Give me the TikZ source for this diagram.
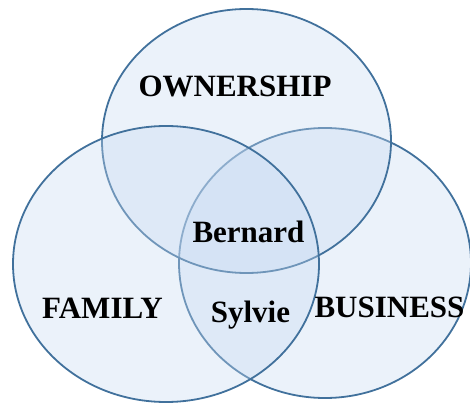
\documentclass[tikz,border=0pt]{standalone}
\usepackage{fontspec}
\setmainfont{Liberation Serif}
\usetikzlibrary{shapes.geometric}
\definecolor{ringline}{RGB}{65,113,156}
\definecolor{ringfill}{RGB}{197,217,241}
\tikzset{
  ring/.style={ellipse, draw=ringline, line width=1.8pt, fill=ringfill,
    fill opacity=0.35, inner sep=0pt},
  label/.style={anchor=base, inner sep=0pt, font=\bfseries\fontsize{31}{31}\selectfont, text=black}
}
\begin{document}
\begin{tikzpicture}[x=1pt,y=-1pt]
  \useasboundingbox (0,0) rectangle (470,403);
  % the three overlapping circles
  \node[ring, minimum width=292pt, minimum height=270pt] (business) at (325,263) {};
  \node[ring, minimum width=289pt, minimum height=264pt] (ownership) at (246.5,141) {};
  \node[ring, minimum width=306pt, minimum height=276pt] (family) at (166,264) {};
  % labels
  \node[label] (own) at (235,97) {OWNERSHIP};
  \node[label] (fam) at (102.5,318) {FAMILY};
  \node[label] (bus) at (389.5,317) {BUSINESS};
  \node[label] (bern) at (248.5,242) {Bernard};
  \node[label] (syl) at (250.5,322) {Sylvie};
\end{tikzpicture}
\end{document}
